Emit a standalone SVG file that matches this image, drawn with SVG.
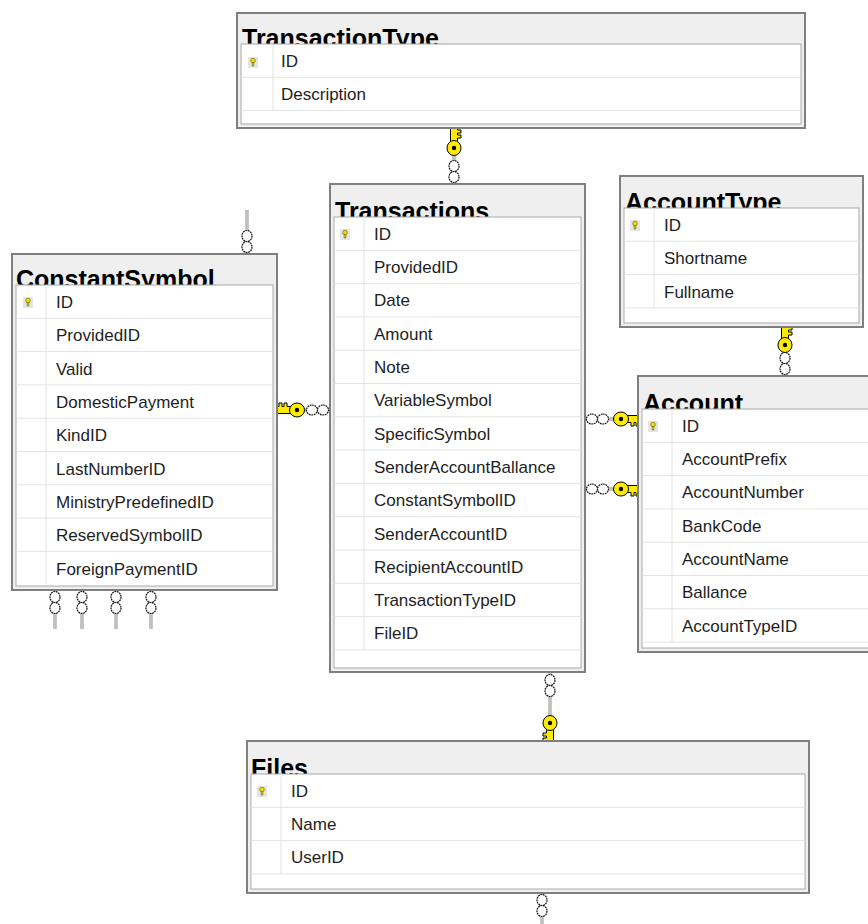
<svg xmlns="http://www.w3.org/2000/svg" xmlns:xlink="http://www.w3.org/1999/xlink" width="868" height="924" viewBox="0 0 868 924">
<style>
.outer{fill:#efefef;stroke:#7f7f7f;stroke-width:2}
.grid{fill:#fff;stroke:#a9a9a9;stroke-width:1}
.sep{stroke:#e3e3e3;stroke-width:1}
.title{font-family:"Liberation Sans",Arial,sans-serif;font-weight:bold;font-size:25px;fill:#000}
.row{font-family:"Liberation Sans",Arial,sans-serif;font-size:17px;fill:#1e1e1e}
.ln1{fill:none;stroke:#8c8c8c;stroke-width:3}
.ln2{fill:none;stroke:#f4f4f4;stroke-width:1}
.ring{fill:#fff;stroke:#111;stroke-width:1.2;stroke-dasharray:1.8 0.7}
.kf{fill:#ffeb00;stroke:#000;stroke-width:1}
.pk{fill:#e4e4e4}
.pkk{fill:#f2dc00;stroke:#7a6f00;stroke-width:0.7}
</style>
<defs>
<g id="key">
<path class="kf" d="M-3.5,-5 L-3.5,-20 Q0,-22 3.5,-20 L3.5,-18 L7,-18 L7,-15 L3.5,-15 L3.5,-13 L7,-13 L7,-10 L3.5,-10 L3.5,-5 Z"/>
<ellipse class="kf" cx="0" cy="0" rx="7" ry="7.5"/>
<circle cx="0" cy="0" r="2.2" fill="#000"/>
</g>
<g id="pkey">
<rect class="pk" x="-5" y="-5" width="10" height="11"/>
<circle class="pkk" cx="0" cy="-1.5" r="2.3"/>
<path class="pkk" d="M-0.8,0.5 L-0.8,4 L0.8,4 L0.8,0.5 Z"/>
</g>
<g id="rings">
<ellipse class="ring" cx="0" cy="0" rx="5" ry="5.5"/>
<ellipse class="ring" cx="0" cy="11" rx="5" ry="5.5"/>
</g>
</defs>

<g id="connectors">
<path class="ln1" d="M454,128 V184"/><path class="ln2" d="M454,128 V184"/>
<use xlink:href="#key" transform="translate(454,148)"/>
<use xlink:href="#rings" transform="translate(454,166)"/>
<path class="ln1" d="M247,210 V254"/><path class="ln2" d="M247,210 V254"/>
<use xlink:href="#rings" transform="translate(247,236)"/>
<path class="ln1" d="M277,410 H330"/><path class="ln2" d="M277,410 H330"/>
<use xlink:href="#key" transform="translate(297,410) rotate(-90)"/>
<use xlink:href="#rings" transform="translate(312,410) rotate(-90)"/>
<path class="ln1" d="M585,419 H638"/><path class="ln2" d="M585,419 H638"/>
<use xlink:href="#rings" transform="translate(592,419) rotate(-90)"/>
<use xlink:href="#key" transform="translate(621,419) rotate(90)"/>
<path class="ln1" d="M585,489 H638"/><path class="ln2" d="M585,489 H638"/>
<use xlink:href="#rings" transform="translate(592,489) rotate(-90)"/>
<use xlink:href="#key" transform="translate(621,489) rotate(90)"/>
<path class="ln1" d="M785,327 V376"/><path class="ln2" d="M785,327 V376"/>
<use xlink:href="#key" transform="translate(785,345)"/>
<use xlink:href="#rings" transform="translate(785,358)"/>
<path class="ln1" d="M550,672 V741"/><path class="ln2" d="M550,672 V741"/>
<use xlink:href="#rings" transform="translate(550,680)"/>
<use xlink:href="#key" transform="translate(550,723) rotate(180)"/>
<path class="ln1" d="M542,893 V924"/><path class="ln2" d="M542,893 V924"/>
<use xlink:href="#rings" transform="translate(542,900)"/>
<path class="ln1" d="M55,590 V629"/><path class="ln2" d="M55,590 V629"/>
<use xlink:href="#rings" transform="translate(55,597)"/>
<path class="ln1" d="M82,590 V629"/><path class="ln2" d="M82,590 V629"/>
<use xlink:href="#rings" transform="translate(82,597)"/>
<path class="ln1" d="M116,590 V629"/><path class="ln2" d="M116,590 V629"/>
<use xlink:href="#rings" transform="translate(116,597)"/>
<path class="ln1" d="M151,590 V629"/><path class="ln2" d="M151,590 V629"/>
<use xlink:href="#rings" transform="translate(151,597)"/>
</g>

<g id="TransactionType">
<rect class="outer" x="237" y="13" width="568" height="115"/>
<text class="title" x="242" y="47">TransactionType</text>
<rect class="grid" x="241" y="44" width="560" height="80"/>
<path class="sep" d="M241,77.3 H801 M241,110.6 H801 M273,44 V110.6"/>
<use xlink:href="#pkey" transform="translate(253,62)"/>
<text class="row" x="281" y="67">ID</text>
<text class="row" x="281" y="100">Description</text>
</g>

<g id="Transactions">
<rect class="outer" x="330" y="184" width="255" height="488"/>
<text class="title" x="335" y="220">Transactions</text>
<rect class="grid" x="334" y="217" width="247" height="451"/>
<path class="sep" d="M334,250.3 H581 M334,283.6 H581 M334,316.9 H581 M334,350.2 H581 M334,383.5 H581 M334,416.8 H581 M334,450.1 H581 M334,483.4 H581 M334,516.7 H581 M334,550 H581 M334,583.3 H581 M334,616.6 H581 M334,649.9 H581 M364,217 V649.9"/>
<use xlink:href="#pkey" transform="translate(345,234)"/>
<text class="row" x="374" y="240">ID</text>
<text class="row" x="374" y="273">ProvidedID</text>
<text class="row" x="374" y="306">Date</text>
<text class="row" x="374" y="340">Amount</text>
<text class="row" x="374" y="373">Note</text>
<text class="row" x="374" y="406">VariableSymbol</text>
<text class="row" x="374" y="440">SpecificSymbol</text>
<text class="row" x="374" y="473">SenderAccountBallance</text>
<text class="row" x="374" y="506">ConstantSymbolID</text>
<text class="row" x="374" y="540">SenderAccountID</text>
<text class="row" x="374" y="573">RecipientAccountID</text>
<text class="row" x="374" y="606">TransactionTypeID</text>
<text class="row" x="374" y="639">FileID</text>
</g>

<g id="ConstantSymbol">
<rect class="outer" x="12" y="254" width="265" height="336"/>
<text class="title" x="16" y="288">ConstantSymbol</text>
<rect class="grid" x="16" y="285" width="257" height="301"/>
<path class="sep" d="M16,318.3 H273 M16,351.6 H273 M16,384.9 H273 M16,418.2 H273 M16,451.5 H273 M16,484.8 H273 M16,518.1 H273 M16,551.4 H273 M46,285 V584.7"/>
<use xlink:href="#pkey" transform="translate(28,302)"/>
<text class="row" x="56" y="308">ID</text>
<text class="row" x="56" y="341">ProvidedID</text>
<text class="row" x="56" y="375">Valid</text>
<text class="row" x="56" y="408">DomesticPayment</text>
<text class="row" x="56" y="441">KindID</text>
<text class="row" x="56" y="475">LastNumberID</text>
<text class="row" x="56" y="508">MinistryPredefinedID</text>
<text class="row" x="56" y="541">ReservedSymbolID</text>
<text class="row" x="56" y="575">ForeignPaymentID</text>
</g>

<g id="AccountType">
<rect class="outer" x="620" y="176" width="243" height="151"/>
<text class="title" x="625" y="211">AccountType</text>
<rect class="grid" x="624" y="208" width="235" height="115"/>
<path class="sep" d="M624,241.3 H859 M624,274.6 H859 M624,307.9 H859 M654,208 V307.9"/>
<use xlink:href="#pkey" transform="translate(635,225)"/>
<text class="row" x="664" y="231">ID</text>
<text class="row" x="664" y="264">Shortname</text>
<text class="row" x="664" y="298">Fullname</text>
</g>

<g id="Account">
<rect class="outer" x="638" y="376" width="240" height="276"/>
<text class="title" x="643" y="412">Account</text>
<rect class="grid" x="642" y="409" width="232" height="239"/>
<path class="sep" d="M642,442.3 H874 M642,475.6 H874 M642,508.9 H874 M642,542.2 H874 M642,575.5 H874 M642,608.8 H874 M642,642.1 H874 M672,409 V642.1"/>
<use xlink:href="#pkey" transform="translate(653,426)"/>
<text class="row" x="682" y="432">ID</text>
<text class="row" x="682" y="465">AccountPrefix</text>
<text class="row" x="682" y="498">AccountNumber</text>
<text class="row" x="682" y="532">BankCode</text>
<text class="row" x="682" y="565">AccountName</text>
<text class="row" x="682" y="598">Ballance</text>
<text class="row" x="682" y="632">AccountTypeID</text>
</g>

<g id="Files">
<rect class="outer" x="247" y="741" width="562" height="152"/>
<text class="title" x="251" y="777">Files</text>
<rect class="grid" x="251" y="774" width="554" height="115"/>
<path class="sep" d="M251,807.3 H805 M251,840.6 H805 M251,873.9 H805 M281,774 V873.9"/>
<use xlink:href="#pkey" transform="translate(262,791)"/>
<text class="row" x="291" y="797">ID</text>
<text class="row" x="291" y="830">Name</text>
<text class="row" x="291" y="863">UserID</text>
</g>
</svg>
